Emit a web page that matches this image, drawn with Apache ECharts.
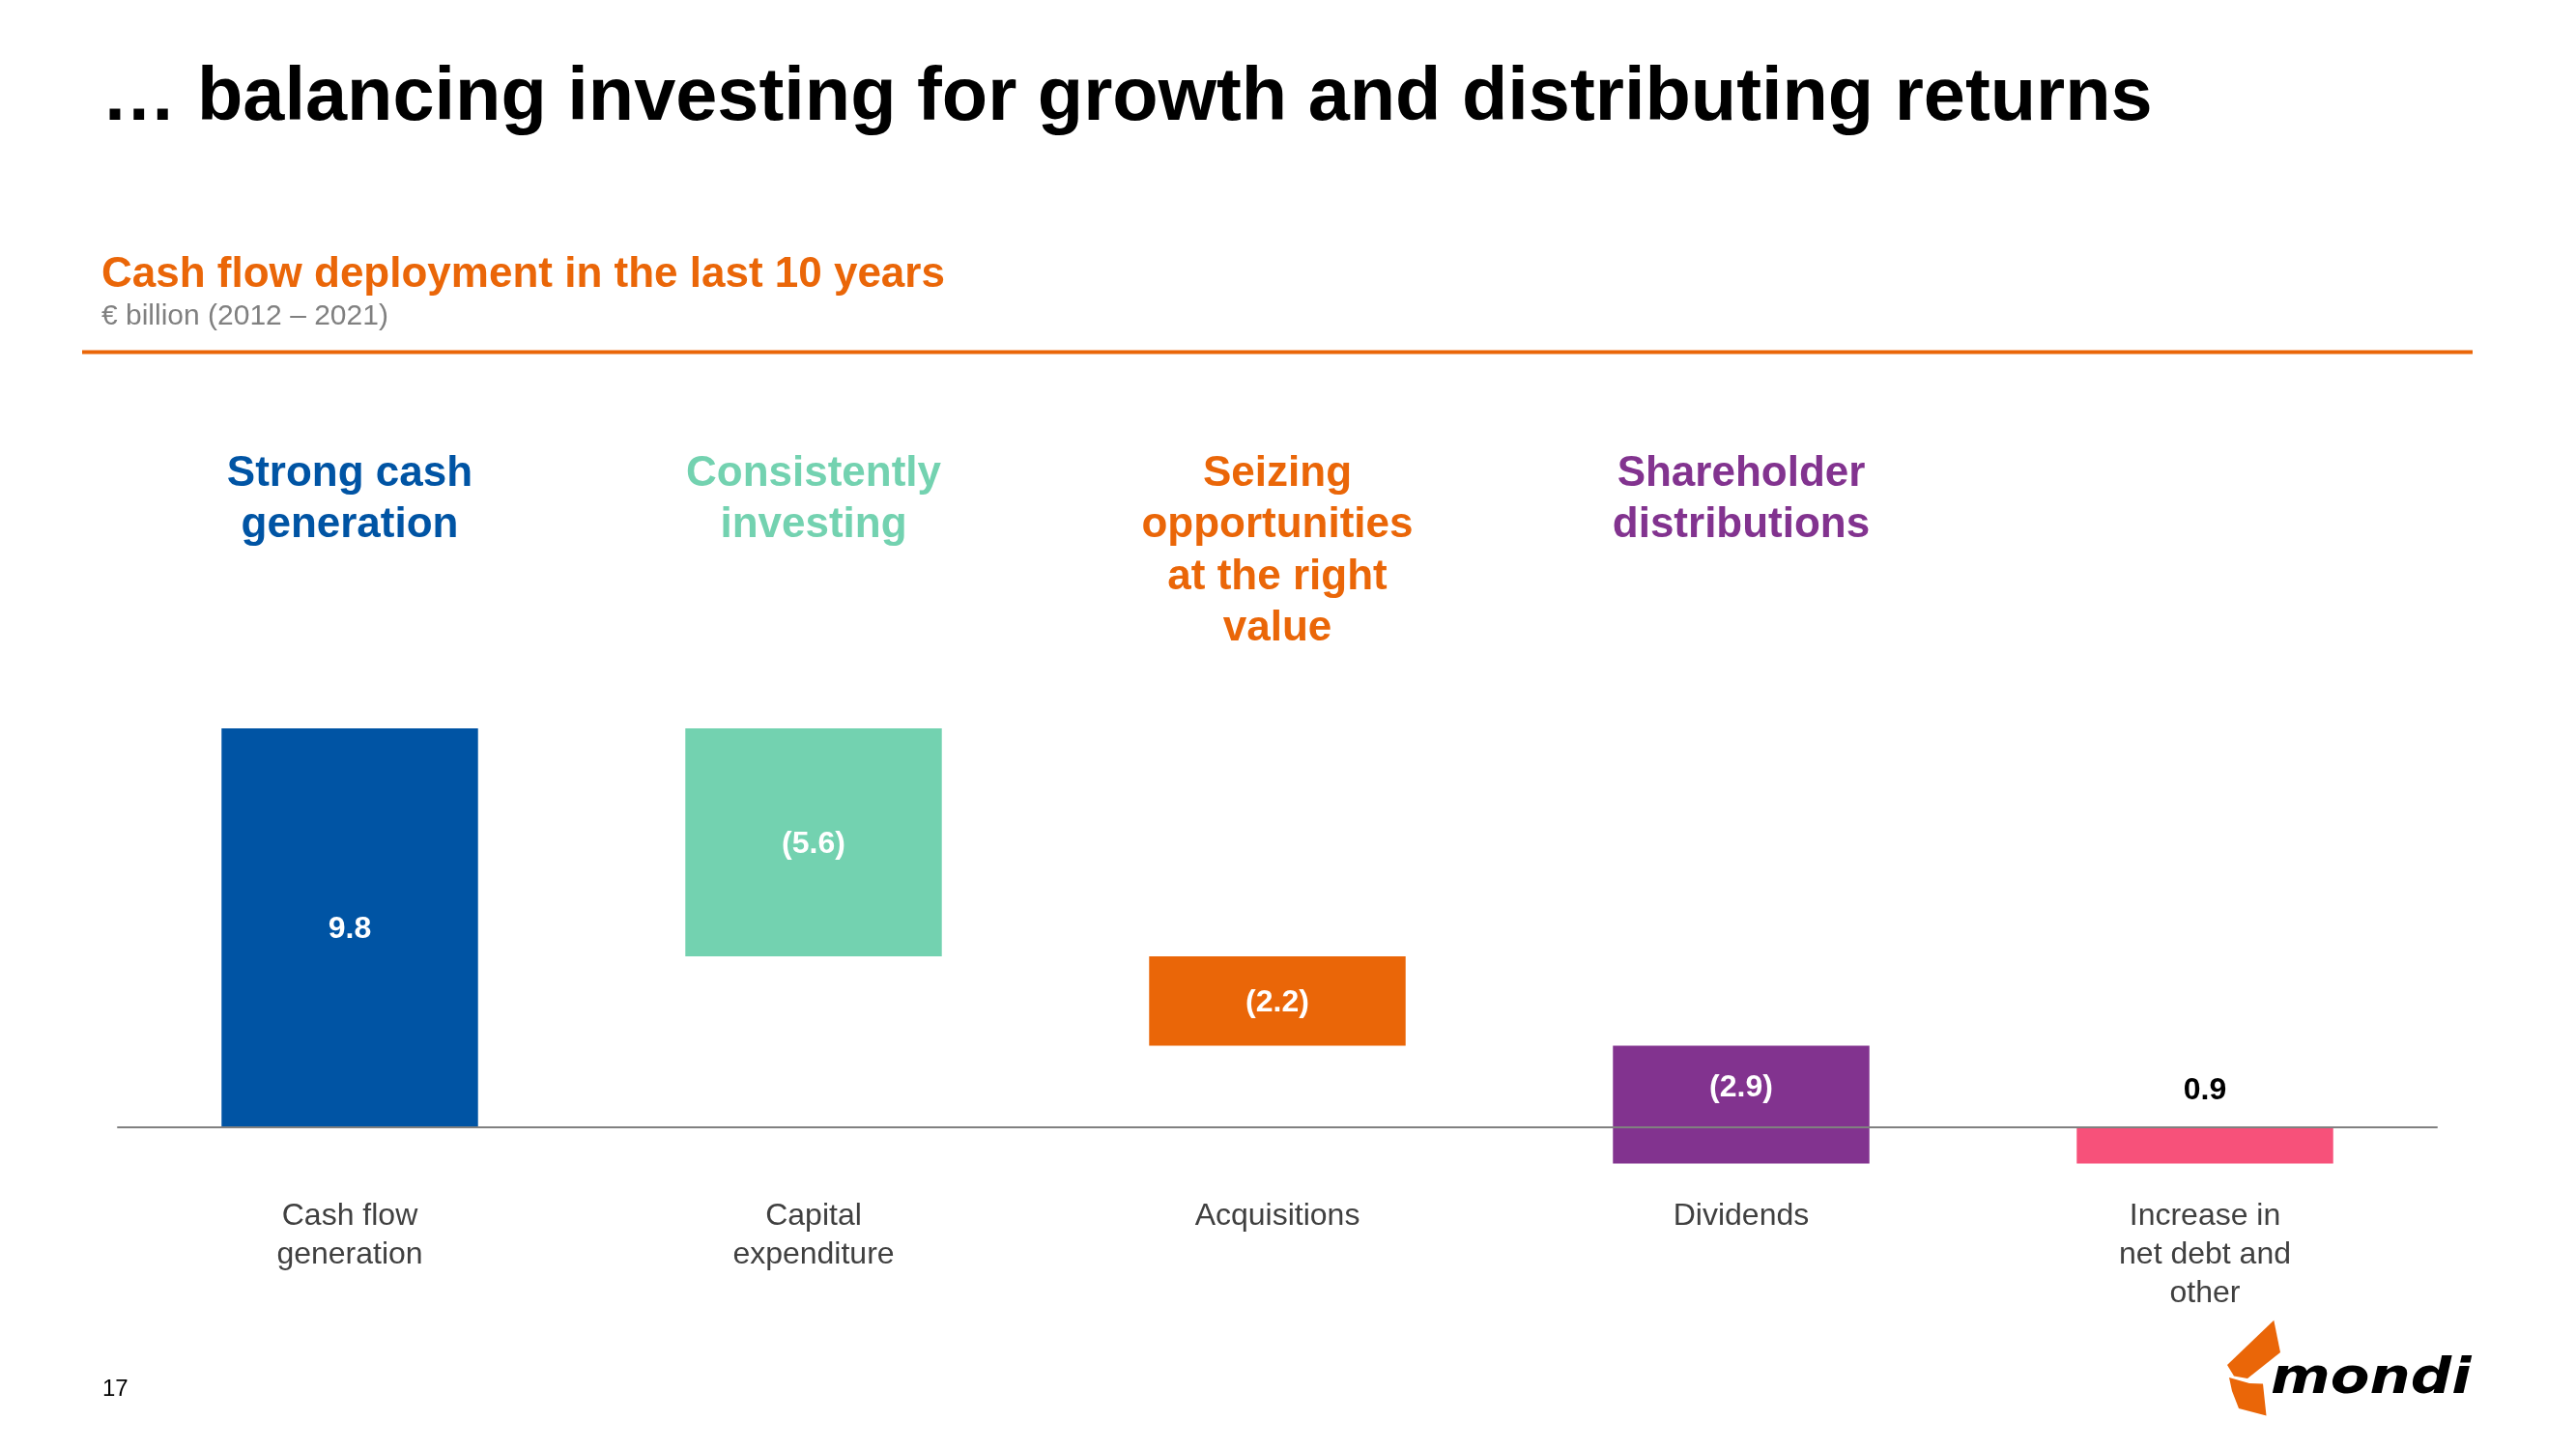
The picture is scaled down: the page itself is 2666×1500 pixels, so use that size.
<!DOCTYPE html>
<html><head><meta charset="utf-8">
<script src="https://cdn.jsdelivr.net/npm/echarts@6/dist/echarts.min.js"></script>
<style>html,body{margin:0;padding:0;background:#fff}#c{width:2666px;height:1500px}</style>
</head><body><div id="c"></div>
<script>
// ---- data ----
const categories = ['Cash flow\ngeneration', 'Capital\nexpenditure', 'Acquisitions', 'Dividends', 'Increase in\nnet debt and\nother'];
const headers = ['Strong cash\ngeneration', 'Consistently\ninvesting', 'Seizing\nopportunities\nat the right\nvalue', 'Shareholder\ndistributions', ''];
const values = [9.8, -5.6, -2.2, -2.9, 0.9];
const valueLabels = ['9.8', '(5.6)', '(2.2)', '(2.9)', '0.9'];

// ---- styles ----
const barColors = ['#0054A4', '#73D2B0', '#EA6608', '#82338F', '#F7517A'];
const FONT = '"Liberation Sans", Arial, Helvetica, sans-serif';

// waterfall ranges built from the values
let run = 0;
const wfData = values.map((v, i) => { const s = run; run = +(run + v).toFixed(6); return [i, s, run]; });

const chart = echarts.init(document.getElementById('c'), null, { renderer: 'canvas' });
chart.setOption({
  animation: false,
  backgroundColor: '#ffffff',
  grid: { left: 122, right: 144, top: 661.5, bottom: 333.3, containLabel: false },
  xAxis: [
    {
      type: 'category', data: categories, z: 10,
      axisLine: { show: true, onZero: true, lineStyle: { color: '#808080', width: 2 } },
      axisTick: { show: false },
      axisLabel: { margin: 72, color: '#404040', fontSize: 32, lineHeight: 40, fontFamily: FONT, interval: 0 }
    },
    {
      type: 'category', data: categories, position: 'top',
      axisLine: { show: false, onZero: false }, axisTick: { show: false },
      axisLabel: {
        interval: 0, margin: 197.5, verticalAlign: 'top', lineHeight: 53.5,
        fontSize: 44, fontWeight: 'bold', fontFamily: FONT,
        formatter: (v, i) => headers[i],
        color: (v, i) => barColors[i]
      }
    }
  ],
  yAxis: { type: 'value', min: 0, max: 12, show: false, splitLine: { show: false } },
  series: [{
    type: 'custom',
    xAxisIndex: 0,
    clip: false,
    data: wfData,
    encode: { x: 0, y: [1, 2] },
    renderItem: (params, api) => {
      const i = api.value(0);
      const a = api.value(1), b = api.value(2);
      const lo = Math.min(a, b), hi = Math.max(a, b);
      const pTop = api.coord([i, hi]);
      const pBot = api.coord([i, lo]);
      const zeroY = api.coord([i, 0])[1];
      const band = api.size([1, 0])[0];
      const w = band * 0.553;
      let ly, inside;
      if (hi > 0) { ly = (pTop[1] + Math.min(pBot[1], zeroY)) / 2 + 2; inside = true; }
      else { ly = pTop[1] - 38; inside = false; }
      return {
        type: 'group',
        children: [
          { type: 'rect', shape: { x: pTop[0] - w / 2, y: pTop[1], width: w, height: pBot[1] - pTop[1] },
            style: { fill: barColors[i] } },
          { type: 'text', x: pTop[0], y: ly,
            style: { text: valueLabels[i], align: 'center', verticalAlign: 'middle',
                     fill: inside ? '#ffffff' : '#000000',
                     font: 'bold 32px ' + FONT } }
        ]
      };
    }
  }],
  graphic: [
    { type: 'text', x: 105, y: 103, style: { text: '\u2026 balancing investing for growth and distributing returns',
      fill: '#000', font: 'bold 77.5px ' + FONT, verticalAlign: 'middle' } },
    { type: 'text', x: 105, y: 284.5, style: { text: 'Cash flow deployment in the last 10 years',
      fill: '#EA6608', font: 'bold 44px ' + FONT, verticalAlign: 'middle' } },
    { type: 'text', x: 105, y: 328, style: { text: '\u20ac billion (2012 \u2013 2021)',
      fill: '#808080', font: '30px ' + FONT, verticalAlign: 'middle' } },
    { type: 'line', shape: { x1: 85, y1: 364.5, x2: 2559, y2: 364.5 }, style: { stroke: '#EA6608', lineWidth: 4 } },
    { type: 'text', x: 106, y: 1438, style: { text: '17', fill: '#000', font: '24px ' + FONT, verticalAlign: 'middle' } },
    // logo
    { type: 'polygon', shape: { points: [[2305, 1413], [2353.3, 1366.7], [2360, 1400], [2326, 1427], [2312, 1424.5]] },
      style: { fill: '#EA6608' } },
    { type: 'polygon', shape: { points: [[2307, 1426], [2328, 1432], [2342, 1432.5], [2345.5, 1465.5], [2317, 1458], [2310, 1440]] },
      style: { fill: '#EA6608' } },
    { type: 'text', x: 2350, y: 1428, scaleX: 1.14, style: { text: 'mondi', fill: '#000',
      font: 'italic bold 52px "DejaVu Sans", sans-serif', verticalAlign: 'middle' } }
  ]
});
</script>
</body></html>
